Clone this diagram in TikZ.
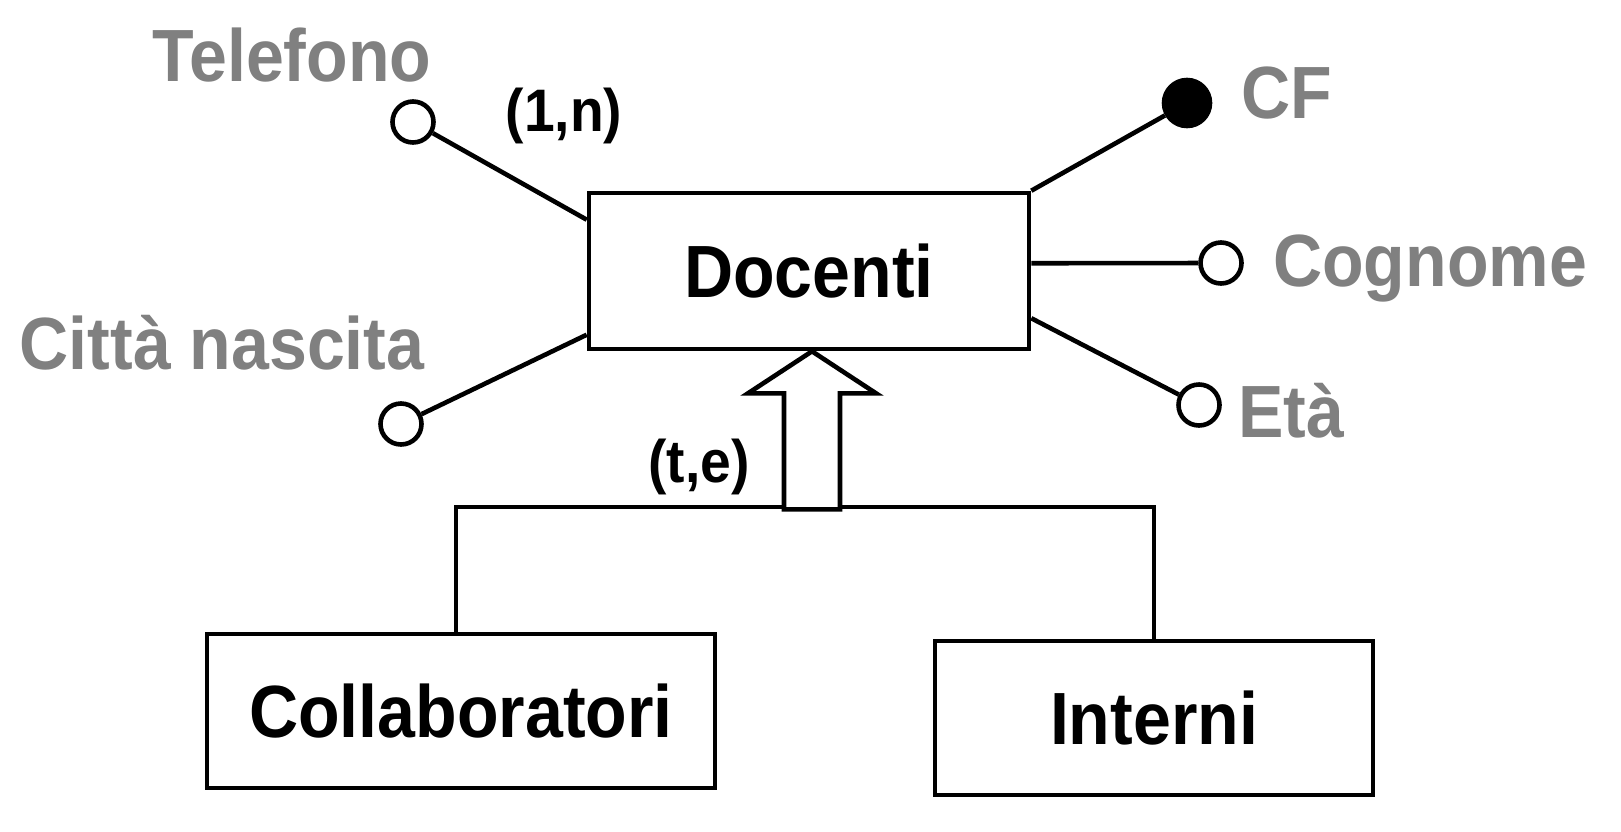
\documentclass[tikz,border=0pt]{standalone}
\usepackage{fontspec}
\newfontfamily\erfont{Liberation Sans}[FakeStretch=0.92]
\usetikzlibrary{positioning}
\definecolor{attrgray}{RGB}{128,128,128}

\begin{document}
\begin{tikzpicture}[x=0.5pt,y=-0.5pt,line width=2.3pt,
		entity/.style={draw,rectangle,inner sep=0pt,font=\erfont\bfseries\fontsize{37}{40}\selectfont},
		attr/.style={draw,circle,fill=white,minimum size=20.5pt,inner sep=0pt},
		keyattr/.style={draw,circle,fill=black,minimum size=23pt,inner sep=0pt},
		attrname/.style={anchor=base,inner sep=0pt,text=attrgray,font=\erfont\bfseries\fontsize{37}{40}\selectfont},
		card/.style={anchor=base,inner sep=0pt,font=\erfont\bfseries\fontsize{30}{34}\selectfont}]
		\useasboundingbox (0,0) rectangle (1621,831);
		% entita
		\node[entity,minimum width=220pt,minimum height=78pt] (docenti) at (809,271) {Docenti};
		\node[entity,minimum width=254pt,minimum height=77pt] (collab) at (461,711) {Collaboratori};
		\node[entity,minimum width=219pt,minimum height=77pt] (interni) at (1154,718) {Interni};
		% attributi
		\node[attr] (telefono) at (413,122) {};
		\node[attr] (citta) at (401,424) {};
		\node[keyattr] (cf) at (1187,103) {};
		\node[attr] (cognome) at (1221,263) {};
		\node[attr] (eta) at (1199,405) {};
		\node[attrname] (telefononame) at (292,81) {Telefono};
		\node[attrname] (cittaname) at (222,369) {Città nascita};
		\node[attrname] (cfname) at (1287,118) {CF};
		\node[attrname] (cognomename) at (1430,286) {Cognome};
		\node[attrname] (etaname) at (1291,437) {Età};
		\node[card] (telefonocard) at (564,131) {(1,n)};
		\draw (docenti.167) -- (telefono);
		\draw (docenti.196) -- (citta);
		\draw (docenti.north east) -- (cf);
		\draw (docenti.2) -- (cognome);
		\draw (docenti.348) -- (eta);
		% generalizzazione
		\coordinate (isabase) at (811,507);
		\draw ([xshift=-2.5pt]collab.north) |- (isabase) -| (interni.north);
		\draw[fill=white] ([xshift=1.5pt]docenti.south) -- ++(64,42) -- ++(-36,0) -- ++(0,116)
			-- ++(-56,0) -- ++(0,-116) -- ++(-36,0) -- cycle;
		\node[card] (isacard) at (699,482) {(t,e)};
\end{tikzpicture}
\end{document}
